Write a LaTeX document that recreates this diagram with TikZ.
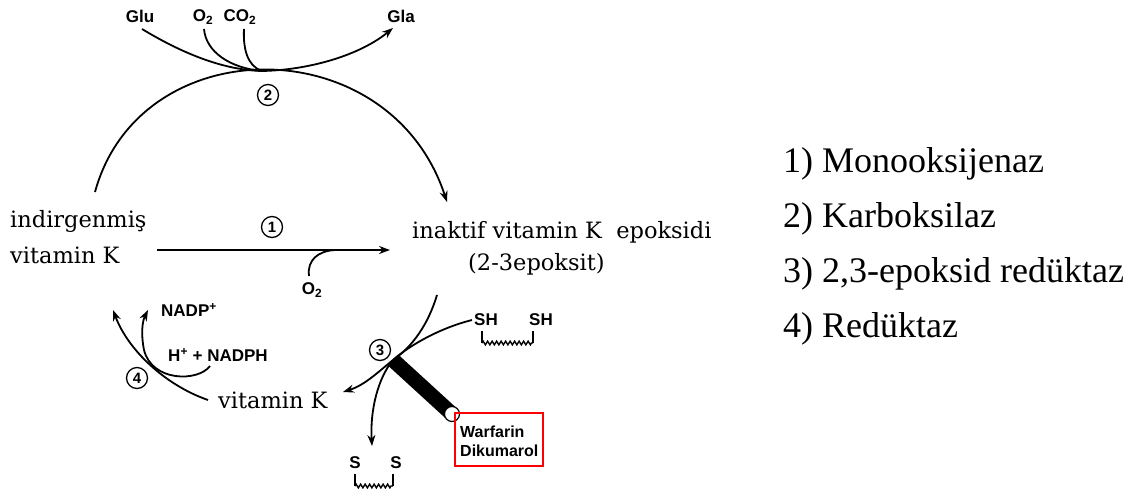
\documentclass[tikz,border=0pt]{standalone}
\usepackage{fontspec}
\setmainfont{DejaVu Serif}
\newfontfamily\legendfont{Liberation Serif}
\newfontfamily\labelfont{Liberation Sans}
\usetikzlibrary{arrows.meta,decorations.pathmorphing}
\begin{document}
\begin{tikzpicture}[x=1pt,y=-1pt,
  maintext/.style={font=\fontsize{22.5}{26}\selectfont, inner sep=0pt, anchor=base west},
  legtext/.style={font=\legendfont\fontsize{36}{40}\selectfont, inner sep=0pt, anchor=base west},
  lab/.style={font=\labelfont\bfseries\fontsize{17}{19}\selectfont, inner sep=0pt},
  num/.style={circle, draw, line width=1.3pt, inner sep=0pt, minimum size=21pt,
    font=\labelfont\bfseries\fontsize{15}{16}\selectfont},
  ln/.style={line width=1.8pt},
  arr/.style={ln, -{Stealth[length=11pt,width=8pt]}},
  wave/.style={line width=1.4pt, decorate, decoration={zigzag, segment length=4.5pt, amplitude=1.8pt}}
]
\useasboundingbox (0,0) rectangle (1148,496);

% main texts
\node[maintext] (ivk1) at (10,227) {indirgenmiş};
\node[maintext] (ivk2) at (10,263) {vitamin K};
\node[maintext] (ep1) at (412,238) {inaktif vitamin K\ \ epoksidi};
\node[maintext] (ep2) at (468,270) {(2-3epoksit)};
\node[maintext] (vk) at (218,408) {vitamin K};

% legend
\node[legtext] (l1) at (783,172) {1) Monooksijenaz};
\node[legtext] (l2) at (783,227) {2) Karboksilaz};
\node[legtext] (l3) at (783,282) {3) 2,3-epoksid redüktaz};
\node[legtext] (l4) at (783,337) {4) Redüktaz};

% enzyme numbers
\node[num] (n1) at (272,227) {1};
\node[num] (n2) at (268,95) {2};
\node[num] (n3) at (380,350) {3};
\node[num] (n4) at (137,378) {4};

% top labels
\node[lab] (glu) at (140,16) {Glu};
\node[lab] (o2a) at (203,17) {O\textsubscript{2}};
\node[lab] (co2) at (240,17) {CO\textsubscript{2}};
\node[lab] (gla) at (401,16) {Gla};

% coordinates
\coordinate (a2s) at (95,192);
\coordinate (a2e) at (447,202);
\coordinate (hub2) at (262,71);
\coordinate (glus) at (142,29);
\coordinate (o2s) at (204,29);
\coordinate (co2s) at (244,29);
\coordinate (glae) at (393,28);

% reaction 2
\draw[arr] (a2s) .. controls (140,28) and (390,28) .. (a2e);
\draw[ln] (glus) .. controls (185,55) and (225,70) .. (hub2);
\draw[ln] (o2s) .. controls (206,52) and (230,68) .. (hub2);
\draw[ln] (co2s) .. controls (243,48) and (247,66) .. (hub2);
\draw[arr] (hub2) .. controls (310,70) and (360,55) .. (glae);

% reaction 1
\coordinate (r1s) at (157,250);
\coordinate (r1e) at (390,250);
\coordinate (r1o) at (309,276);
\coordinate (r1j) at (335,250);
\draw[arr] (r1s) -- (r1e);
\node[lab] (o2b) at (312,290) {O\textsubscript{2}};
\draw[ln] (r1o) .. controls (307,260) and (318,251) .. (r1j);

% reaction 3
\coordinate (hub3) at (393,360);
\coordinate (r3top) at (437,295);
\coordinate (r3left) at (343,392);
\coordinate (r3down) at (372,446);
\coordinate (shs) at (472,320);
\coordinate (barend) at (452,414);
\draw[ln] (r3top) .. controls (428,325) and (412,347) .. (hub3);
\draw[arr] (hub3) .. controls (378,372) and (365,385) .. (r3left);
\draw[ln] (shs) .. controls (440,328) and (410,345) .. (hub3);
\draw[arr] (hub3) .. controls (378,378) and (370,410) .. (r3down);
\draw[line width=15pt] (hub3) -- (barend);
\draw[line width=1.2pt, fill=white] (barend) circle (7.5pt);

% SH SH
\node[lab] (sh1) at (486,320) {SH};
\node[lab] (sh2) at (541,320) {SH};
\draw[line width=1.4pt] (482,331) -- (482,343);
\draw[wave] (482,343) -- (533,343);
\draw[line width=1.4pt] (533,343) -- (533,331);

% S S
\node[lab] (s1) at (355,463) {S};
\node[lab] (s2) at (396,463) {S};
\draw[line width=1.4pt] (355,474) -- (355,486);
\draw[wave] (355,486) -- (393,486);
\draw[line width=1.4pt] (393,486) -- (393,474);

% inhibitor box
\node[draw=red, line width=2.2pt, minimum width=88pt, minimum height=53pt, inner sep=0pt]
  (box) at (499,439.5) {};
\node[lab, align=left, font=\labelfont\bfseries\fontsize{16}{19}\selectfont, anchor=west]
  (inh) at (460,441) {Warfarin\\Dikumarol};

% reaction 4
\coordinate (r4s) at (208,400);
\coordinate (r4e) at (113,310);
\coordinate (r4ns) at (210,366);
\coordinate (r4ne) at (148,310);
\draw[arr] (r4s) .. controls (165,385) and (128,350) .. (r4e);
\draw[arr] (r4ns) .. controls (198,382) and (152,382) .. (144,350) .. controls (141,335) and (142,322) .. (r4ne);
\node[lab] (nadp) at (189,310) {NADP\textsuperscript{+}};
\node[lab] (nadph) at (218,355) {H\textsuperscript{+} + NADPH};
\end{tikzpicture}
\end{document}
